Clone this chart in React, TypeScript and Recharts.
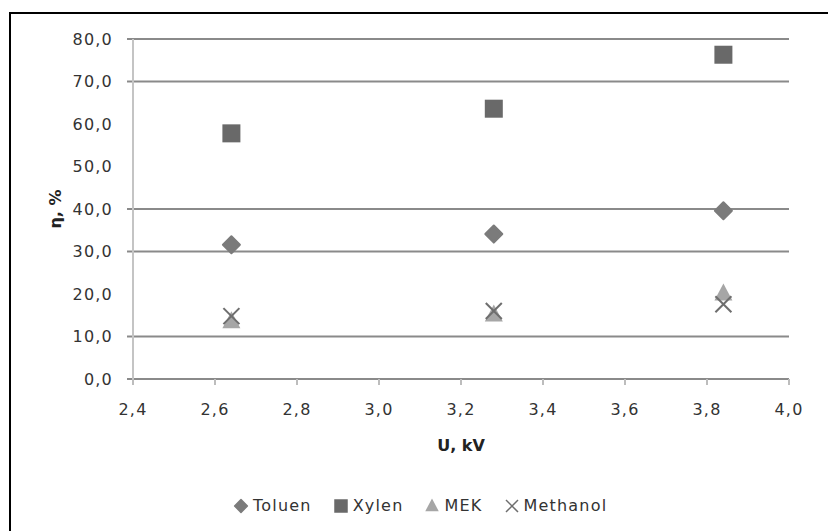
import React from "react";
import {
  ScatterChart,
  Scatter,
  XAxis,
  YAxis,
  ReferenceLine,
} from "recharts";

const toluen = [
  { x: 2.64, y: 31.6 },
  { x: 3.28, y: 34.1 },
  { x: 3.84, y: 39.6 },
];
const xylen = [
  { x: 2.64, y: 57.8 },
  { x: 3.28, y: 63.6 },
  { x: 3.84, y: 76.3 },
];
const mek = [
  { x: 2.64, y: 13.6 },
  { x: 3.28, y: 15.2 },
  { x: 3.84, y: 20.1 },
];
const methanol = [
  { x: 2.64, y: 14.8 },
  { x: 3.28, y: 16.0 },
  { x: 3.84, y: 17.6 },
];

const xTicks = [2.4, 2.6, 2.8, 3.0, 3.2, 3.4, 3.6, 3.8, 4.0];
const yTicks = [0, 10, 20, 30, 40, 50, 60, 70, 80];
// only these gridlines are visible in the picture
const gridValues = [0, 10, 30, 40, 70, 80];

const FONT = "'DejaVu Sans', sans-serif";

const fmt = (v: number) => v.toFixed(1).replace(".", ",");

const Diamond = ({ cx, cy, fill }: any) => (
  <path
    d={`M${cx},${cy - 8.5} L${cx + 8.5},${cy} L${cx},${cy + 8.5} L${cx - 8.5},${cy} Z`}
    fill={fill}
    strokeLinejoin="round"
    stroke={fill}
    strokeWidth={2}
  />
);

const Square = ({ cx, cy, fill }: any) => (
  <rect x={cx - 9} y={cy - 9} width={18} height={18} fill={fill} />
);

const Triangle = ({ cx, cy, fill }: any) => (
  <path
    d={`M${cx},${cy - 10} L${cx + 9},${cy + 7} L${cx - 9},${cy + 7} Z`}
    fill={fill}
  />
);

const Cross = ({ cx, cy, fill }: any) => (
  <g stroke={fill} strokeWidth={2}>
    <line x1={cx - 8} y1={cy - 8} x2={cx + 8} y2={cy + 8} />
    <line x1={cx - 8} y1={cy + 8} x2={cx + 8} y2={cy - 8} />
  </g>
);

const series = [
  { name: "Toluen", data: toluen, color: "#7b7b7b", shape: Diamond },
  { name: "Xylen", data: xylen, color: "#696969", shape: Square },
  { name: "MEK", data: mek, color: "#a6a6a6", shape: Triangle },
  { name: "Methanol", data: methanol, color: "#6e6e6e", shape: Cross },
];

const tickStyle = {
  fontFamily: FONT,
  fontSize: 16,
  fill: "#333",
  letterSpacing: 1.2,
};

export default function App() {
  return (
    <div
      style={{
        position: "absolute",
        left: 0,
        top: 0,
        width: 828,
        height: 531,
        background: "#fff",
        overflow: "hidden",
      }}
    >
      <div
        style={{
          position: "absolute",
          left: 9,
          top: 12,
          width: 900,
          height: 600,
          borderLeft: "2px solid #000",
          borderTop: "2px solid #000",
        }}
      />
      <div style={{ position: "absolute", left: 0, top: 0 }}>
        <ScatterChart
          width={828}
          height={531}
          margin={{ top: 39, right: 39, bottom: 80, left: 43 }}
        >
          <XAxis
            type="number"
            dataKey="x"
            domain={[2.4, 4.0]}
            ticks={xTicks}
            tickFormatter={fmt}
            height={72}
            tickSize={6}
            tickMargin={19}
            axisLine={{ stroke: "#8a8a8a", strokeWidth: 2 }}
            tickLine={{ stroke: "#bdbdbd", strokeWidth: 2 }}
            tick={tickStyle}
            label={{
              value: "U, kV",
              position: "insideBottom",
              offset: 0,
              style: {
                fontFamily: FONT,
                fontSize: 16,
                fontWeight: "bold",
                fill: "#222",
              },
            }}
          />
          <YAxis
            type="number"
            dataKey="y"
            domain={[0, 80]}
            ticks={yTicks}
            tickFormatter={fmt}
            width={90}
            tickSize={6}
            tickMargin={14}
            tickLine={false}
            axisLine={{ stroke: "#c4c4c4", strokeWidth: 2 }}
            tick={tickStyle}
            label={{
              value: "η, %",
              angle: -90,
              position: "insideLeft",
              offset: 12,
              style: {
                fontFamily: FONT,
                fontSize: 16,
                fontWeight: "bold",
                fill: "#222",
                textAnchor: "middle",
              },
            }}
          />
          {gridValues.map((v) => (
            <ReferenceLine
              key={v}
              segment={[
                { x: 2.3854, y: v },
                { x: 4.0, y: v },
              ]}
              stroke="#8a8a8a"
              strokeWidth={2}
              ifOverflow="visible"
            />
          ))}
          {series.map((s) => (
            <Scatter
              key={s.name}
              name={s.name}
              data={s.data}
              fill={s.color}
              shape={s.shape}
              isAnimationActive={false}
            />
          ))}
        </ScatterChart>
      </div>
      <div
        style={{
          position: "absolute",
          left: 232,
          top: 496,
          display: "flex",
          alignItems: "center",
          fontFamily: FONT,
          fontSize: 16,
          letterSpacing: 1.2,
          color: "#333",
        }}
      >
        {series.map((s) => {
          const Shape = s.shape;
          return (
            <div
              key={s.name}
              style={{ display: "flex", alignItems: "center", marginRight: 20 }}
            >
              <svg width={18} height={18} style={{ marginRight: 3 }}>
                <g transform="translate(9,9) scale(0.75) translate(-9,-9)">
                  <Shape cx={9} cy={9} fill={s.color} />
                </g>
              </svg>
              <span>{s.name}</span>
            </div>
          );
        })}
      </div>
    </div>
  );
}
